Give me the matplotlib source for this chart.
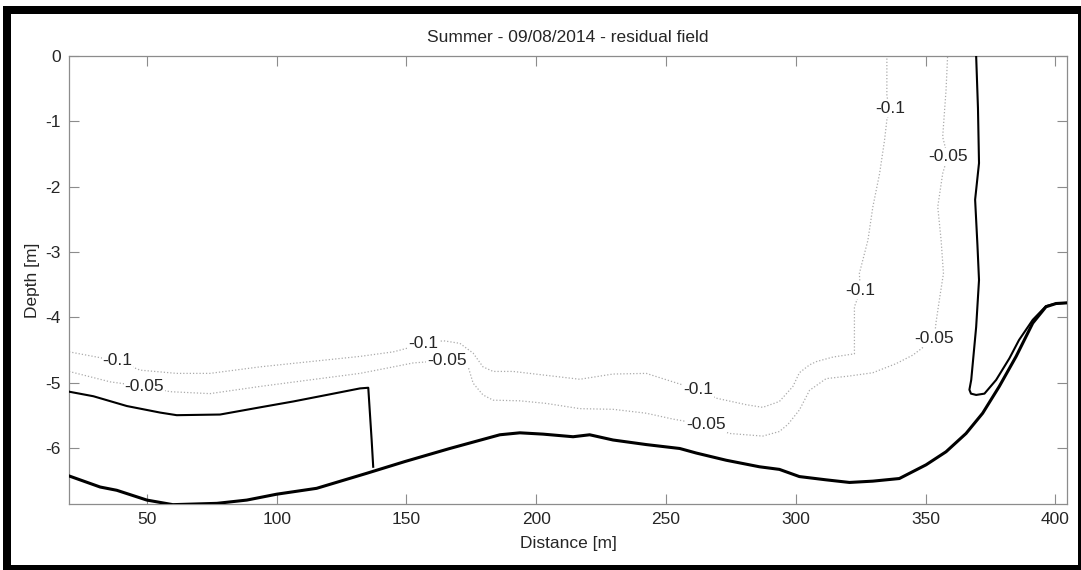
from typing import List

import matplotlib
matplotlib.use('Agg')
import matplotlib.pyplot as plt
from matplotlib.patches import Rectangle

plt.rcParams['font.family'] = ['Liberation Sans', 'DejaVu Sans']
plt.rcParams['axes.unicode_minus'] = False

TITLE = 'Summer - 09/08/2014 - residual field'
X_LABEL = 'Distance [m]'
Y_LABEL = 'Depth [m]'
X_TICKS = [50, 100, 150, 200, 250, 300, 350, 400]
Y_TICKS = [-6, -5, -4, -3, -2, -1, 0]

# bed line (solid, thick)
bed_x = [20, 32, 38.4, 50, 60, 77, 88.5, 100, 115.4, 134.7, 149.4, 166.7, 186,
         193.7, 202.6, 214.2, 220.6, 229.6, 242.4, 255.3, 261.7, 273.2, 286,
         293.7, 301.4, 311.7, 320.7, 329.7, 339.9, 350.2, 357.9, 365.6, 372,
         378.4, 384.9, 391.3, 396.4, 400.3, 404.5]
bed_y = [-6.43, -6.60, -6.65, -6.80, -6.87, -6.85, -6.80, -6.71, -6.62, -6.39,
         -6.21, -6.01, -5.80, -5.77, -5.79, -5.83, -5.80, -5.88, -5.95, -6.01,
         -6.08, -6.19, -6.29, -6.33, -6.44, -6.49, -6.53, -6.51, -6.47, -6.26,
         -6.06, -5.78, -5.47, -5.06, -4.60, -4.09, -3.84, -3.79, -3.78]

# zero line, left part
zero_left_x = [20, 29.4, 42.3, 55.1, 61.5, 78.2, 93.6, 106.4, 119.3, 132.1,
               135.3, 136.6, 137.2]
zero_left_y = [-5.14, -5.21, -5.36, -5.46, -5.50, -5.49, -5.38, -5.29, -5.19,
               -5.09, -5.08, -5.88, -6.29]

# zero line, right part (hook)
zero_right_x = [369.5, 370.2, 370.6, 369.1, 370.0, 370.6, 369.5, 367.6, 366.9,
                367.5, 369.5, 372.7, 377.2, 382.3, 386, 391.3, 396.4, 400.3,
                404.5]
zero_right_y = [0, -0.8, -1.64, -2.2, -2.9, -3.43, -4.15, -4.96, -5.11, -5.17,
                -5.19, -5.17, -4.96, -4.63, -4.35, -4.04, -3.83, -3.79, -3.78]

# -0.1 contour
c010_x = [20, 29.4, 38.7, 47.4, 61.5, 74.3, 93.6, 112.8, 132.1, 145, 156.5,
          164.2, 170.6, 175.7, 179.5, 183.4, 191.1, 203.9, 216.8, 229.6, 242.4,
          252.7, 262.3, 269.4, 281, 287.3, 293.7, 298.9, 301.4, 305.3, 307.9,
          314.3, 322.6, 322.6, 324.9, 324.5, 327.8, 329.7, 332.3, 334.2, 335.1,
          336.4, 335.1, 335.1]
c010_y = [-4.53, -4.60, -4.67, -4.81, -4.86, -4.86, -4.76, -4.68, -4.60, -4.53,
          -4.41, -4.36, -4.40, -4.55, -4.76, -4.83, -4.83, -4.89, -4.95, -4.87,
          -4.86, -4.99, -5.11, -5.24, -5.34, -5.38, -5.29, -5.06, -4.85, -4.73,
          -4.68, -4.61, -4.56, -3.84, -3.59, -3.33, -2.82, -2.31, -1.80, -1.29,
          -0.98, -0.80, -0.62, 0]

# -0.05 contour
c005_x = [20, 35.9, 49, 58.9, 74.3, 93.6, 112.8, 132.1, 145, 152.6, 165.7,
          173.8, 175.7, 179.5, 183.4, 193.7, 203.9, 216.8, 229.6, 242.4, 252.7,
          265.5, 274.5, 287.3, 293.7, 297, 301.4, 305.3, 311.7, 320.7, 329.7,
          338.7, 345.1, 353.4, 354, 355.3, 356.9, 356, 354.7, 356.6, 358.5,
          356.6, 357.9, 358.5]
c005_y = [-4.83, -4.99, -5.06, -5.14, -5.17, -5.06, -4.96, -4.86, -4.76, -4.70,
          -4.66, -4.76, -5.01, -5.19, -5.27, -5.28, -5.32, -5.40, -5.41, -5.47,
          -5.56, -5.65, -5.78, -5.82, -5.75, -5.64, -5.42, -5.12, -4.94, -4.90,
          -4.85, -4.71, -4.58, -4.33, -4.09, -3.74, -3.33, -2.82, -2.31, -1.80,
          -1.54, -1.24, -0.52, 0]

# contour labels
label_010_x = [38.7, 156.5, 262.3, 324.9, 336.4]
label_010_y = [-4.67, -4.41, -5.11, -3.59, -0.80]
label_005_x = [49, 165.7, 265.5, 353.4, 358.5]
label_005_y = [-5.06, -4.66, -5.65, -4.33, -1.54]

AXIS_GREY = '#8c8c8c'
TEXT_COLOR = '#262626'
FONT_SIZE = 12.5


def add_labels(ax: plt.Axes, xs: List[float], ys: List[float], text: str) -> None:
    for x, y in zip(xs, ys):
        ax.text(x, y, text, ha='center', va='center', fontsize=FONT_SIZE,
                color=TEXT_COLOR, zorder=4,
                bbox=dict(facecolor='white', edgecolor='none', pad=0.6))


def add_frame(fig: plt.Figure, w: int = 1081, h: int = 570) -> None:
    fig.add_artist(Rectangle((3 / w, 0), 1 - 3 / w, (h - 6) / h,
                             transform=fig.transFigure, facecolor='black',
                             edgecolor='none', zorder=-10))
    fig.add_artist(Rectangle((11 / w, 5 / h), (1078 - 11) / w, (565 - 14) / h,
                             transform=fig.transFigure, facecolor='white',
                             edgecolor='none', zorder=-9))


fig = plt.figure(figsize=(10.81, 5.70), dpi=100)
add_frame(fig)
ax = fig.add_axes([69 / 1081, 66 / 570, (1067 - 69) / 1081, (504 - 56) / 570])
ax.patch.set_alpha(0)

dot_style = dict(color='#ababab', lw=0.9, linestyle=(0, (1, 1.6)), zorder=2)
ax.plot(c010_x, c010_y, **dot_style)
ax.plot(c005_x, c005_y, **dot_style)
add_labels(ax, label_010_x, label_010_y, '-0.1')
add_labels(ax, label_005_x, label_005_y, '-0.05')

ax.plot(bed_x, bed_y, color='black', lw=2.2, zorder=5)
ax.plot(zero_left_x, zero_left_y, color='black', lw=1.5, zorder=5)
ax.plot(zero_right_x, zero_right_y, color='black', lw=1.5, zorder=5)

ax.set_xlim(20, 404.5)
ax.set_ylim(-6.86, 0)
ax.set_xticks(X_TICKS)
ax.set_yticks(Y_TICKS)
ax.tick_params(direction='in', length=7, width=0.8, color=AXIS_GREY,
               labelcolor=TEXT_COLOR, labelsize=FONT_SIZE, top=True, right=True,
               pad=6)
for spine in ax.spines.values():
    spine.set_color(AXIS_GREY)
    spine.set_linewidth(0.9)

ax.set_title(TITLE, fontsize=FONT_SIZE, color=TEXT_COLOR, pad=10)
ax.set_xlabel(X_LABEL, fontsize=FONT_SIZE, color=TEXT_COLOR, labelpad=6)
ax.set_ylabel(Y_LABEL, fontsize=FONT_SIZE, color=TEXT_COLOR, labelpad=4)

fig.savefig('out.png', dpi=100)
